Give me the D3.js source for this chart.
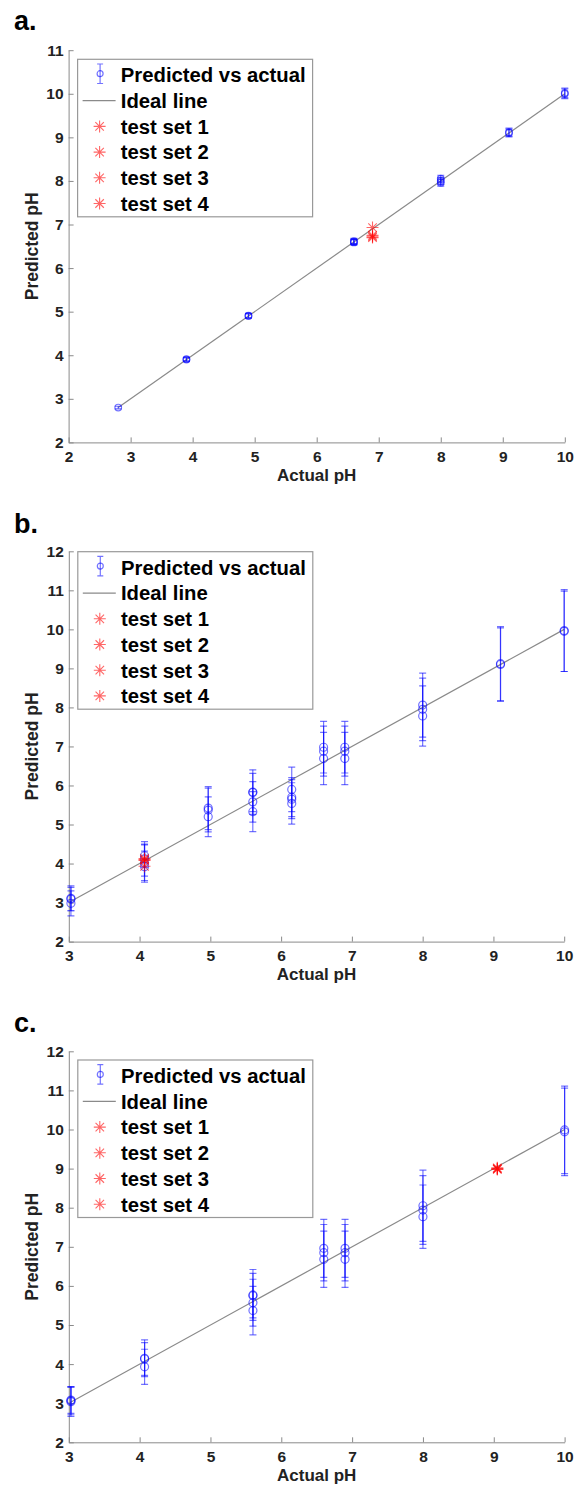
<!DOCTYPE html>
<html>
<head>
<meta charset="utf-8">
<script src="https://cdn.jsdelivr.net/npm/d3@7"></script>
<style>
  body { margin: 0; background: #fff; }
  svg { display: block; font-family: "Liberation Sans", Arial, sans-serif; font-weight: bold; }
  .axis path, .axis line { stroke: #8a8a8a; }
</style>
</head>
<body>
<svg id="chart" width="576" height="1490"></svg>
<script>
// panel a
var aActual = [2.8, 3.9, 3.9, 4.9, 4.9, 6.6, 6.6, 6.6, 8, 8, 8, 9.1, 9.1, 10, 10];
var aPredicted = [2.8, 3.9, 3.91, 4.9, 4.91, 6.6, 6.62, 6.59, 8.05, 7.96, 8.0, 9.1, 9.12, 10.0, 10.02];
var aError = [0.03, 0.04, 0.04, 0.05, 0.05, 0.06, 0.06, 0.06, 0.08, 0.08, 0.08, 0.09, 0.09, 0.11, 0.11];
var aTestActual = [6.9, 6.9, 6.9, 6.9];
var aTestPredicted = [6.93, 6.72, 6.70, 6.75];
var aIdeal = [2.8, 10];
var aXTicks = [2, 3, 4, 5, 6, 7, 8, 9, 10];
var aYTicks = [2, 3, 4, 5, 6, 7, 8, 9, 10, 11];

// panel b
var bActual = [3.03, 3.03, 3.03, 4.07, 4.07, 4.07, 4.07, 4.97, 4.97, 4.97, 5.6, 5.6, 5.6, 5.6,
  6.15, 6.15, 6.15, 6.15, 6.6, 6.6, 6.6, 6.9, 6.9, 6.9, 8, 8, 8, 9.1, 9.1, 10, 10];
var bPredicted = [3.11, 3.09, 2.98, 4.2, 4.12, 4.02, 3.92, 5.42, 5.37, 5.2, 5.83, 5.82, 5.58, 5.33,
  5.9, 5.7, 5.65, 5.54, 6.98, 6.88, 6.69, 6.98, 6.88, 6.69, 8.06, 7.95, 7.78, 9.12, 9.1, 9.97, 9.95];
var bError = [0.32, 0.3, 0.32, 0.3, 0.44, 0.46, 0.4, 0.55, 0.56, 0.51, 0.57, 0.49, 0.52, 0.51,
  0.57, 0.5, 0.5, 0.53, 0.66, 0.64, 0.67, 0.66, 0.64, 0.67, 0.82, 0.8, 0.77, 0.95, 0.94, 1.05, 1.03];
var bTestActual = [4.07, 4.07, 4.07, 4.07];
var bTestPredicted = [4.13, 4.08, 4.1, 3.93];
var bIdeal = [3, 10];
var bXTicks = [3, 4, 5, 6, 7, 8, 9, 10];
var bYTicks = [2, 3, 4, 5, 6, 7, 8, 9, 10, 11, 12];

// panel c
var cActual = [3.03, 3.03, 3.03, 4.07, 4.07, 4.07, 5.6, 5.6, 5.6, 5.6,
  6.6, 6.6, 6.6, 6.9, 6.9, 6.9, 8, 8, 8, 10, 10];
var cPredicted = [3.06, 3.08, 3.04, 4.15, 4.13, 3.93, 5.77, 5.75, 5.57, 5.37,
  6.96, 6.85, 6.68, 6.96, 6.85, 6.68, 8.05, 7.94, 7.77, 9.99, 9.94];
var cError = [0.36, 0.34, 0.38, 0.47, 0.42, 0.45, 0.65, 0.57, 0.6, 0.62,
  0.74, 0.72, 0.72, 0.74, 0.72, 0.72, 0.91, 0.88, 0.81, 1.12, 1.12];
var cTestActual = [9.05, 9.05, 9.05, 9.05];
var cTestPredicted = [8.98, 9.0, 9.02, 8.99];
var cIdeal = [3, 10];
var cXTicks = [3, 4, 5, 6, 7, 8, 9, 10];
var cYTicks = [2, 3, 4, 5, 6, 7, 8, 9, 10, 11, 12];

var legendLabels = ['Predicted vs actual', 'Ideal line', 'test set 1', 'test set 2', 'test set 3', 'test set 4'];

var blue = 'rgba(0,0,255,0.55)',
    red = 'rgba(255,0,0,0.6)',
    grey = '#8a8a8a';

var svg = d3.select('#chart');

// eight-spoke star like matlab's '*' marker
function star(r) {
  var d = 0.7071 * r;
  return 'M' + (-r) + ',0H' + r + 'M0,' + (-r) + 'V' + r +
    'M' + (-d) + ',' + (-d) + 'L' + d + ',' + d + 'M' + (-d) + ',' + d + 'L' + d + ',' + (-d);
}

var panels = [
  { name: 'a.', actual: aActual, pred: aPredicted, err: aError, tx: aTestActual, ty: aTestPredicted,
    ideal: aIdeal, xt: aXTicks, yt: aYTicks, left: 68.6, right: 564.8, top: 50.2, bottom: 442.4,
    labelY: 29.5, legendTop: 59.3, r: 3.3 },
  { name: 'b.', actual: bActual, pred: bPredicted, err: bError, tx: bTestActual, ty: bTestPredicted,
    ideal: bIdeal, xt: bXTicks, yt: bYTicks, left: 68.8, right: 564.2, top: 551.3, bottom: 941.6,
    labelY: 533, legendTop: 551.7, r: 4 },
  { name: 'c.', actual: cActual, pred: cPredicted, err: cError, tx: cTestActual, ty: cTestPredicted,
    ideal: cIdeal, xt: cXTicks, yt: cYTicks, left: 68.8, right: 564.6, top: 1051.3, bottom: 1442.3,
    labelY: 1031.7, legendTop: 1060, r: 4 }
];

panels.forEach(function(p) {
  var x = d3.scaleLinear().domain([p.xt[0], p.xt[p.xt.length - 1]]).range([p.left, p.right]),
      y = d3.scaleLinear().domain([p.yt[0], p.yt[p.yt.length - 1]]).range([p.bottom, p.top]);

  var g = svg.append('g');

  // panel letter
  g.append('text')
    .attr('x', 14)
    .attr('y', p.labelY)
    .style('font-size', '27px')
    .text(p.name);

  // axes, ticks pointing inwards
  var xAxis = g.append('g')
    .attr('class', 'axis')
    .attr('transform', 'translate(0,' + p.bottom + ')')
    .call(d3.axisBottom(x).tickValues(p.xt).tickSizeInner(-5).tickSizeOuter(0).tickPadding(0).tickFormat(d3.format('d')));
  xAxis.selectAll('text')
    .style('font-size', '15.5px')
    .style('fill', '#222')
    .attr('y', 19.5)
    .attr('dy', null);

  var yAxis = g.append('g')
    .attr('class', 'axis')
    .attr('transform', 'translate(' + p.left + ',0)')
    .call(d3.axisLeft(y).tickValues(p.yt).tickSizeInner(-5).tickSizeOuter(0).tickPadding(5).tickFormat(d3.format('d')));
  yAxis.selectAll('text').style('font-size', '15.5px').style('fill', '#222');
  g.selectAll('.axis .domain').attr('stroke', grey);
  g.selectAll('.axis .tick line').attr('stroke', grey);

  // axis titles
  g.append('text')
    .attr('x', (p.left + p.right) / 2)
    .attr('y', p.bottom + 38.5)
    .attr('text-anchor', 'middle')
    .style('font-size', '17px')
    .style('fill', '#222')
    .text('Actual pH');

  g.append('text')
    .attr('transform', 'translate(38,' + (p.top + p.bottom) / 2 + ') rotate(-90)')
    .attr('text-anchor', 'middle')
    .style('font-size', '17.5px')
    .style('fill', '#222')
    .text('Predicted pH');

  // ideal line
  g.append('line')
    .attr('x1', x(p.ideal[0])).attr('y1', y(p.ideal[0]))
    .attr('x2', x(p.ideal[1])).attr('y2', y(p.ideal[1]))
    .attr('stroke', grey)
    .attr('stroke-width', 1.2);

  // error bars with circles
  var pts = p.actual.map(function(a, i) { return { a: a, v: p.pred[i], e: p.err[i] }; });
  var bars = g.selectAll('.bar').data(pts).enter().append('g')
    .attr('stroke', blue)
    .attr('fill', 'none')
    .attr('stroke-width', 1.2);
  bars.append('line')
    .attr('x1', function(d) { return x(d.a); })
    .attr('x2', function(d) { return x(d.a); })
    .attr('y1', function(d) { return y(d.v - d.e); })
    .attr('y2', function(d) { return y(d.v + d.e); });
  bars.append('path')
    .attr('d', function(d) {
      var cx = x(d.a);
      return 'M' + (cx - 3.5) + ',' + y(d.v - d.e) + 'H' + (cx + 3.5) +
        'M' + (cx - 3.5) + ',' + y(d.v + d.e) + 'H' + (cx + 3.5);
    });
  bars.append('circle')
    .attr('cx', function(d) { return x(d.a); })
    .attr('cy', function(d) { return y(d.v); })
    .attr('r', p.r);

  // test set stars
  g.selectAll('.star').data(p.tx).enter().append('path')
    .attr('transform', function(d, i) { return 'translate(' + x(d) + ',' + y(p.ty[i]) + ')'; })
    .attr('d', star(6))
    .attr('stroke', red)
    .attr('stroke-width', 1.1)
    .attr('fill', 'none');

  // legend
  var lx = p.left + 9, ly = p.legendTop, row = 25.7;
  g.append('rect')
    .attr('x', lx).attr('y', ly)
    .attr('width', 235).attr('height', 157.5)
    .attr('fill', '#fff')
    .attr('stroke', '#999')
    .attr('stroke-width', 1.2);

  var leg = g.selectAll('.legend').data(legendLabels).enter().append('g')
    .attr('transform', function(d, i) { return 'translate(' + lx + ',' + (ly + 15.7 + i * row) + ')'; });

  leg.append('text')
    .attr('x', 43.2)
    .attr('dy', '0.36em')
    .style('font-size', '20.3px')
    .style('fill', '#000')
    .text(function(d) { return d; });

  leg.each(function(d, i) {
    var s = d3.select(this);
    if (i === 0) {
      s.append('path')
        .attr('d', 'M22.5,-11V8.5M19.5,-11H25.5M19.5,8.5H25.5')
        .attr('stroke', blue).attr('stroke-width', 1.2).attr('fill', 'none');
      s.append('circle').attr('cx', 22.5).attr('cy', -1.3).attr('r', 3)
        .attr('stroke', blue).attr('stroke-width', 1.2).attr('fill', 'none');
    } else if (i === 1) {
      s.append('line').attr('x1', 5).attr('x2', 38).attr('y1', 0).attr('y2', 0)
        .attr('stroke', grey).attr('stroke-width', 1.2);
    } else {
      s.append('path').attr('transform', 'translate(22,0)').attr('d', star(6))
        .attr('stroke', red).attr('stroke-width', 1.1).attr('fill', 'none');
    }
  });
});
</script>
</body>
</html>
